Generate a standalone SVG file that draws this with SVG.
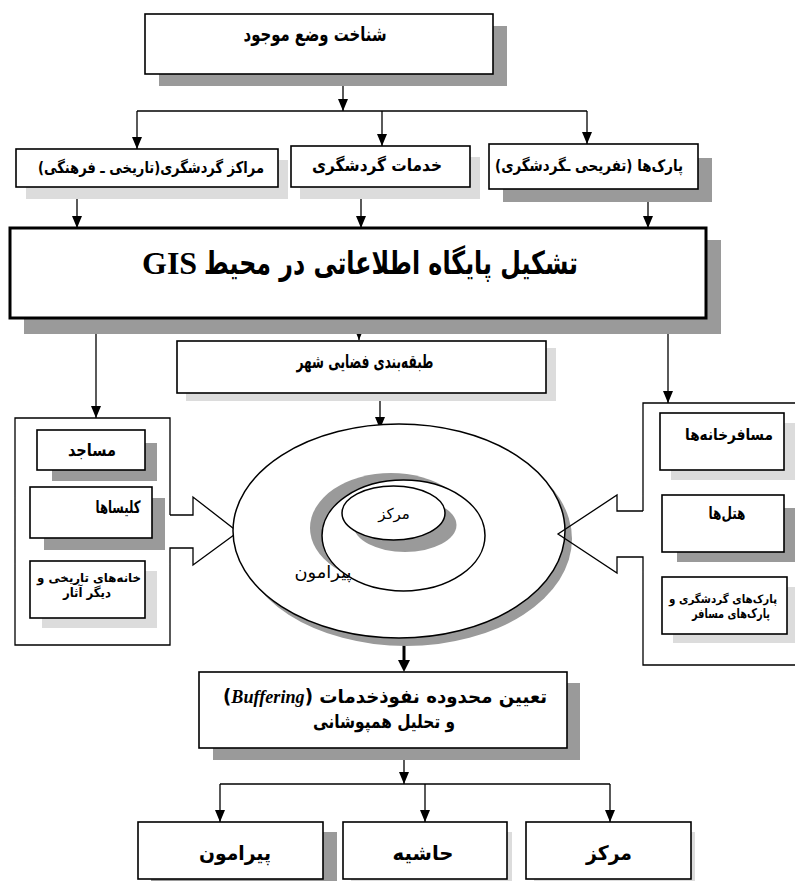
<svg xmlns="http://www.w3.org/2000/svg" width="795" height="881" viewBox="0 0 795 881">
<style>
.box{fill:#fff;stroke:#000;stroke-width:1.6}
.dk{fill:#9a9a9a}
.lt{fill:#dcdcdc}
.ln{fill:none;stroke:#000;stroke-width:1.3}
.t{font-family:"DejaVu Sans",sans-serif;font-weight:bold;fill:#000;text-anchor:middle;direction:rtl}
.en{font-family:"Liberation Serif",serif;font-weight:bold}
</style>
<defs>
<marker id="ah" viewBox="0 0 12 10" refX="12" refY="5" markerWidth="12" markerHeight="10" markerUnits="userSpaceOnUse" orient="auto">
<path d="M0,0 L12,5 L0,10 z" fill="#000"/>
</marker>
</defs>
<rect width="795" height="881" fill="#fff"/>

<g id="connectors">
<path class="ln" d="M343,74 V111" marker-end="url(#ah)"/>
<path class="ln" d="M137,111 H587"/>
<path class="ln" d="M137,111 V149" marker-end="url(#ah)"/>
<path class="ln" d="M382,111 V146" marker-end="url(#ah)"/>
<path class="ln" d="M587,111 V144" marker-end="url(#ah)"/>
<path class="ln" d="M77,188 V228" marker-end="url(#ah)"/>
<path class="ln" d="M361,188 V228" marker-end="url(#ah)"/>
<path class="ln" d="M648,189 V228" marker-end="url(#ah)"/>
<path class="ln" d="M359,318 V340" marker-end="url(#ah)"/>
<path class="ln" d="M96,318 V418" marker-end="url(#ah)"/>
<path class="ln" d="M668,318 V403" marker-end="url(#ah)"/>
<path class="ln" d="M380,393 V429" marker-end="url(#ah)"/>
<path fill="none" stroke="#000" stroke-width="3" d="M404,636 V662"/>
<path d="M398,660 L410,660 L404,672 z" fill="#000"/>
<path class="ln" d="M404,748 V784" marker-end="url(#ah)"/>
<path class="ln" d="M220,784 H610"/>
<path class="ln" d="M220,784 V822" marker-end="url(#ah)"/>
<path class="ln" d="M425,784 V822" marker-end="url(#ah)"/>
<path class="ln" d="M610,784 V822" marker-end="url(#ah)"/>
</g>

<g id="n-top">
<rect class="dk" x="159" y="26" width="348" height="60"/>
<rect class="box" x="145" y="14" width="348" height="60"/>
<text class="t" x="315" y="41" font-size="20" textLength="143" lengthAdjust="spacingAndGlyphs">شناخت وضع موجود</text>
</g>

<g id="n-marakez">
<rect class="lt" x="26" y="160" width="262" height="39"/>
<rect class="box" x="16" y="149" width="262" height="38"/>
<text class="t" x="151" y="173" font-size="16" textLength="226" lengthAdjust="spacingAndGlyphs">مراکز گردشگری(تاریخی ـ فرهنگی)</text>
</g>

<g id="n-khadamat">
<rect class="lt" x="300" y="157" width="180" height="42"/>
<rect class="box" x="291" y="146" width="179" height="41"/>
<text class="t" x="377" y="171" font-size="17" textLength="130" lengthAdjust="spacingAndGlyphs">خدمات گردشگری</text>
</g>

<g id="n-parks">
<rect class="dk" x="503" y="158" width="209" height="44"/>
<rect class="box" x="489" y="144" width="209" height="45"/>
<text class="t" x="589" y="171" font-size="16" textLength="188" lengthAdjust="spacingAndGlyphs">پارک&#8204;ها (تفریحی ـگردشگری)</text>
</g>

<g id="n-gis">
<rect class="dk" x="24" y="240" width="697" height="94"/>
<rect fill="#fff" stroke="#000" stroke-width="3" x="10" y="228" width="696" height="90"/>
<text class="t" x="391" y="274" font-size="32" textLength="374" lengthAdjust="spacingAndGlyphs">تشکیل پایگاه اطلاعاتی در محیط</text>
<text class="en" x="142" y="274" font-size="32" fill="#000">GIS</text>
</g>

<g id="n-tabaghe">
<rect class="lt" x="186" y="348" width="370" height="53"/>
<rect class="box" x="177" y="341" width="369" height="52"/>
<text class="t" x="365" y="368" font-size="19" textLength="137" lengthAdjust="spacingAndGlyphs">طبقه&#8204;بندی فضایی شهر</text>
</g>

<g id="n-left-group">
<path class="ln" stroke-width="1.5" d="M170,515 V418 H15 V645 H170 V548 H193 V565 L238,532 L193,497 V515 H170" fill="#fff"/>
</g>

<g id="n-masajed">
<rect class="dk" x="52" y="443" width="105" height="38"/>
<rect class="box" x="37" y="430" width="108" height="40"/>
<text class="t" x="92" y="456" font-size="17" textLength="48" lengthAdjust="spacingAndGlyphs">مساجد</text>
</g>
<g id="n-kelisa">
<rect class="dk" x="44" y="498" width="121" height="52"/>
<rect class="box" x="30" y="487" width="122" height="51"/>
<text class="t" x="118" y="513" font-size="17" textLength="45" lengthAdjust="spacingAndGlyphs">کلیساها</text>
</g>
<g id="n-khaneha">
<rect class="lt" x="42" y="571" width="115" height="57"/>
<rect class="box" x="30" y="561" width="115" height="57"/>
<text class="t" x="89" y="582" font-size="12" textLength="104" lengthAdjust="spacingAndGlyphs">خانه&#8204;های تاریخی و</text>
<text class="t" x="87" y="597" font-size="13" textLength="48" lengthAdjust="spacingAndGlyphs">دیگر آثار</text>
</g>

<g id="n-rings">
<ellipse cx="406" cy="539" rx="166" ry="107" fill="#9a9a9a"/>
<ellipse cx="399" cy="531" rx="166" ry="107" fill="#fff" stroke="#000" stroke-width="1.5"/>
<ellipse cx="391" cy="528" rx="81" ry="55" fill="#9a9a9a"/>
<ellipse cx="403.5" cy="535.5" rx="81.5" ry="55.5" fill="#fff" stroke="#000" stroke-width="1.5"/>
<ellipse cx="405" cy="525" rx="51.5" ry="27" fill="#9a9a9a"/>
<ellipse cx="393.5" cy="513" rx="51.5" ry="27" fill="#fff" stroke="#000" stroke-width="1.5"/>
<text class="t" x="394" y="519" font-size="15" style="font-weight:normal">مرکز</text>
<text class="t" x="323" y="578" font-size="17" style="font-weight:normal" textLength="57" lengthAdjust="spacingAndGlyphs">پیرامون</text>
</g>

<g id="n-right-group">
<path class="ln" stroke-width="1.5" d="M643,511 V403 H795 M795,665 H643 V557 H617 V573 L558,534 L617,495 V511 H643" fill="#fff"/>
</g>

<g id="n-mosaferkhane">
<rect class="lt" x="671" y="423" width="124" height="57"/>
<rect class="box" x="660" y="413" width="124" height="57"/>
<text class="t" x="729" y="440" font-size="16" textLength="88" lengthAdjust="spacingAndGlyphs">مسافرخانه&#8204;ها</text>
</g>
<g id="n-hotel">
<rect class="dk" x="677" y="508" width="118" height="54"/>
<rect class="box" x="662" y="495" width="122" height="57"/>
<text class="t" x="727" y="519" font-size="17" textLength="37" lengthAdjust="spacingAndGlyphs">هتل&#8204;ها</text>
</g>
<g id="n-parkmosafer">
<rect class="lt" x="673" y="587" width="122" height="56"/>
<rect class="box" x="662" y="577" width="125" height="57"/>
<text class="t" x="723" y="603" font-size="11.5" textLength="108" lengthAdjust="spacingAndGlyphs">پارک&#8204;های گردشگری و</text>
<text class="t" x="731" y="618" font-size="12.5" textLength="78" lengthAdjust="spacingAndGlyphs">پارک&#8204;های مسافر</text>
</g>

<g id="n-buffering">
<rect class="dk" x="213" y="683" width="367" height="77"/>
<rect class="box" x="199" y="672" width="368" height="76"/>
<text class="t" x="385" y="703" font-size="19" textLength="324" lengthAdjust="spacingAndGlyphs">تعیین محدوده نفوذخدمات (<tspan class="en" font-style="italic">Buffering</tspan>)</text>
<text class="t" x="384" y="728" font-size="19" textLength="142" lengthAdjust="spacingAndGlyphs">و تحلیل همپوشانی</text>
</g>

<g id="n-piramoon">
<rect class="dk" x="151" y="832" width="186" height="49"/>
<rect class="box" x="138" y="822" width="185" height="57"/>
<text class="t" x="235" y="860" font-size="20" textLength="72" lengthAdjust="spacingAndGlyphs">پیرامون</text>
</g>
<g id="n-hashie">
<rect class="lt" x="351" y="832" width="161" height="49"/>
<rect class="box" x="343" y="822" width="164" height="57"/>
<text class="t" x="423" y="860" font-size="20" textLength="61" lengthAdjust="spacingAndGlyphs">حاشیه</text>
</g>
<g id="n-markaz">
<rect class="lt" x="534" y="832" width="161" height="49"/>
<rect class="box" x="526" y="822" width="165" height="57"/>
<text class="t" x="609" y="860" font-size="20" textLength="46" lengthAdjust="spacingAndGlyphs">مرکز</text>
</g>
</svg>
